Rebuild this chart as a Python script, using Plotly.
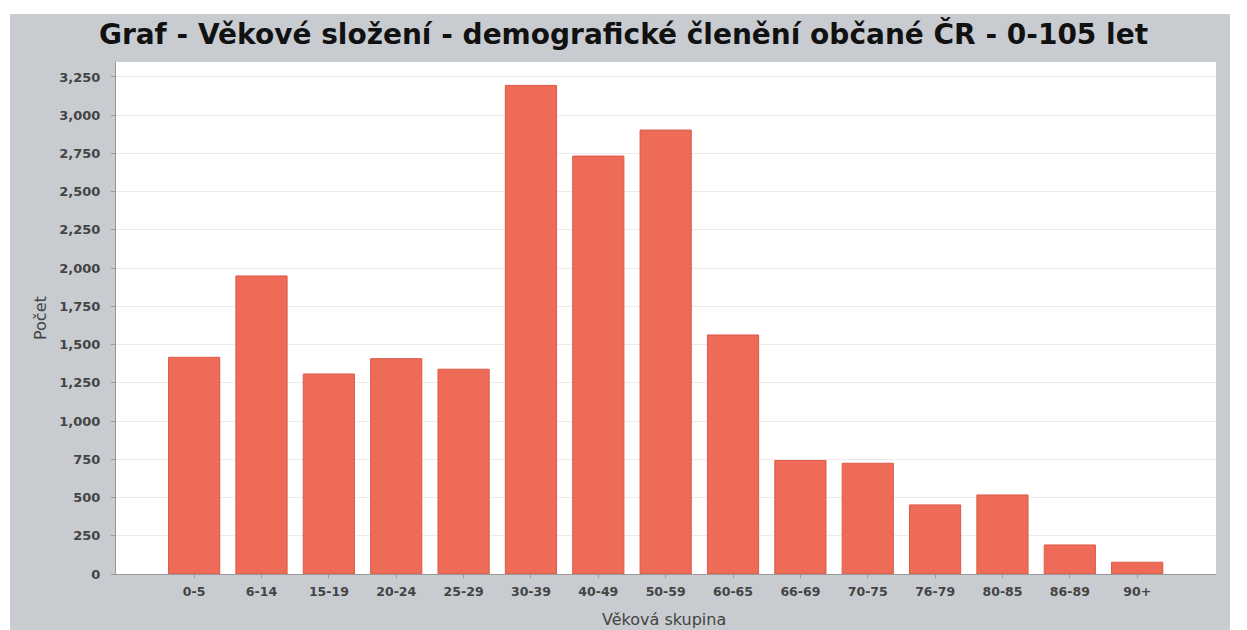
import plotly.graph_objects as go

categories = ["0-5", "6-14", "15-19", "20-24", "25-29", "30-39", "40-49", "50-59",
              "60-65", "66-69", "70-75", "76-79", "80-85", "86-89", "90+"]
counts = [1417, 1949, 1308, 1408, 1339, 3195, 2733, 2903,
          1563, 742, 724, 452, 517, 190, 77]
y_ticks = list(range(0, 3251, 250))
y_tick_labels = [f"{v:,}" for v in y_ticks]

W, H = 1247, 630
L, R, T, B = 116, 31, 62, 56
GRAY = "#c8ccd0"

fig = go.Figure(go.Bar(
    x=list(range(len(categories))),
    y=counts,
    marker=dict(color="#ee6b58", line=dict(color="#dd5a48", width=1)),
    width=0.76,
    hoverinfo="x+y",
))

pw = W - L - R
ph = H - T - B


def px(xp):
    return (xp - L) / pw


def py(yp):
    return (H - B - yp) / ph


shapes = [
    dict(type="rect", xref="paper", yref="paper", x0=px(0), x1=px(W), y0=py(14), y1=py(0),
         fillcolor="white", line=dict(width=0), layer="below"),
    dict(type="rect", xref="paper", yref="paper", x0=px(0), x1=px(10), y0=py(H), y1=py(0),
         fillcolor="white", line=dict(width=0), layer="below"),
    dict(type="rect", xref="paper", yref="paper", x0=px(1230), x1=px(W), y0=py(H), y1=py(0),
         fillcolor="white", line=dict(width=0), layer="below"),
]

annotations = [
    dict(text="Věková skupina", xref="paper", yref="paper", x=px(664), y=py(619),
         xanchor="center", yanchor="middle", showarrow=False,
         font=dict(family="DejaVu Sans", size=16, color="#444444")),
    dict(text="Počet", xref="paper", yref="paper", x=px(40), y=py(318),
         xanchor="center", yanchor="middle", showarrow=False, textangle=-90,
         font=dict(family="DejaVu Sans", size=16, color="#444444")),
]

fig.update_layout(
    width=W, height=H,
    margin=dict(l=L, r=R, t=T, b=B, pad=0),
    paper_bgcolor=GRAY,
    plot_bgcolor="white",
    showlegend=False,
    shapes=shapes,
    annotations=annotations,
    title=dict(
        text="Graf - Věkové složení - demografické členění občané ČR - 0-105 let",
        font=dict(family="DejaVu Sans", size=28, color="#111111", weight="bold"),
        x=0.5, xanchor="center", xref="container",
        y=1 - 34 / H, yanchor="middle",
    ),
    font=dict(family="DejaVu Sans", color="#444444"),
    xaxis=dict(
        range=[-1.16, 15.17],
        tickmode="array",
        tickvals=list(range(len(categories))),
        ticktext=categories,
        tickfont=dict(family="DejaVu Sans", size=12.5, color="#444444", weight="bold"),
        ticks="outside", ticklen=3, tickcolor="#999999",
        ticklabelstandoff=3,
        showgrid=False,
        showline=True, linecolor="#9a9a9a", linewidth=1,
        zeroline=False,
    ),
    yaxis=dict(
        range=[0, 3348],
        tickmode="array",
        tickvals=y_ticks,
        ticktext=y_tick_labels,
        tickfont=dict(family="DejaVu Sans", size=13, color="#444444", weight="bold"),
        ticks="outside", ticklen=4, tickcolor="#999999",
        ticklabelstandoff=8,
        showgrid=True, gridcolor="#ececec", gridwidth=1,
        showline=True, linecolor="#9a9a9a", linewidth=1,
        zeroline=False,
    ),
)

fig.write_html("out.html", config={"displayModeBar": False},
               post_script="document.body.style.margin='0';")
